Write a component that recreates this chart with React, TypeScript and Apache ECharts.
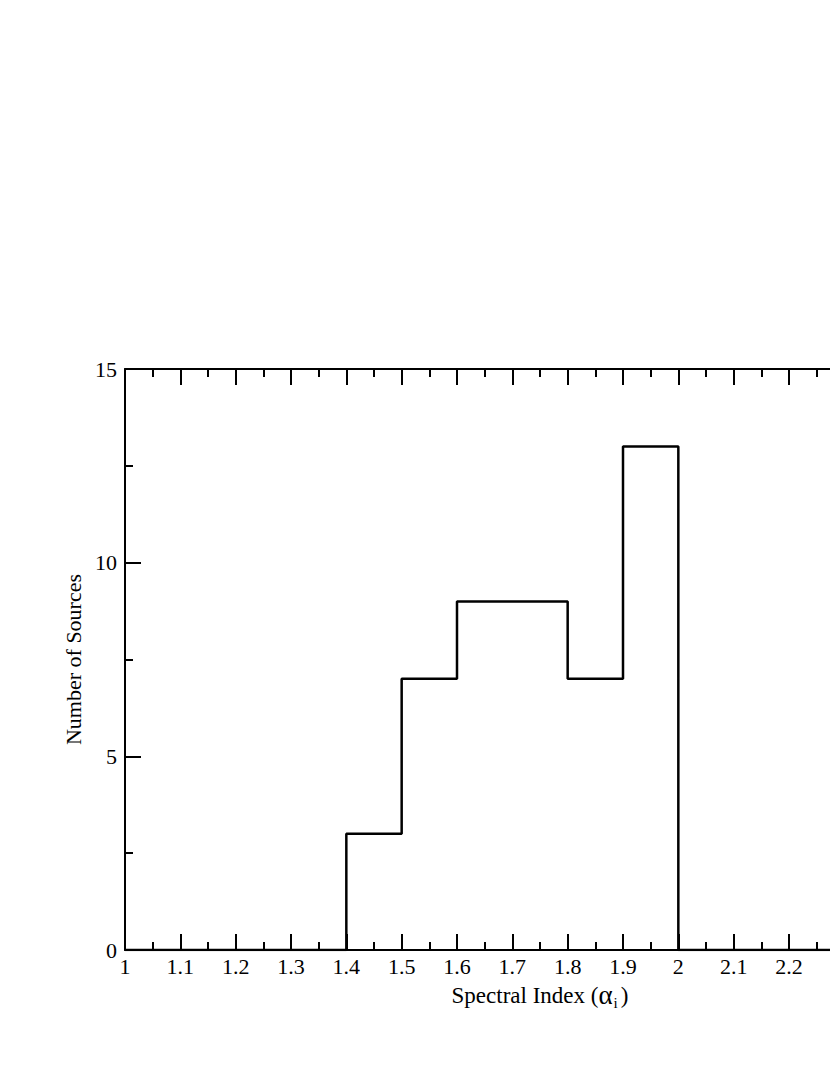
import React, { useEffect, useRef } from "react";
import * as echarts from "echarts";

const binStarts = [1.0, 1.1, 1.2, 1.3, 1.4, 1.5, 1.6, 1.7, 1.8, 1.9, 2.0, 2.1, 2.2, 2.3, 2.4];
const counts = [0, 0, 0, 0, 3, 7, 9, 9, 7, 13, 0, 0, 0, 0, 0];
const binWidth = 0.1;
const xMin = 1;
const xMax = 2.5;
const yMin = 0;
const yMax = 15;
const xTitle = "Spectral Index";
const yTitle = "Number of Sources";

const FONT = "'Liberation Serif', 'DejaVu Serif', serif";

export default function App() {
  const ref = useRef<HTMLDivElement>(null);
  useEffect(() => {
    if (!ref.current) return;
    const chart = echarts.init(ref.current, null, { renderer: "svg" });
    const pts: number[][] = [];
    binStarts.forEach((s, i) => {
      pts.push([s, counts[i]]);
      pts.push([+(s + binWidth).toFixed(2), counts[i]]);
    });
    const axisCommon = {
      min: xMin,
      max: xMax,
      interval: 0.1,
      axisLine: { show: true, lineStyle: { color: "#000", width: 2 } },
      axisTick: { show: true, inside: true, length: 16, lineStyle: { color: "#000", width: 2 } },
      minorTick: { show: true, splitNumber: 2, length: 8, lineStyle: { color: "#000", width: 2 } },
      splitLine: { show: false },
      minorSplitLine: { show: false },
    };
    chart.setOption({
      animation: false,
      backgroundColor: "#fff",
      grid: { left: 125, top: 369, width: 830, height: 581 },
      xAxis: [
        {
          type: "value",
          position: "bottom",
          ...axisCommon,
          axisLabel: {
            show: true,
            color: "#000",
            fontFamily: FONT,
            fontSize: 22,
            margin: 5,
            formatter: (v: number) => (v > 2.25 ? "" : String(+v.toFixed(2))),
          },
          name: "{a|" + xTitle + " (}{b|α}{s|i}{a|)}",
          nameLocation: "middle",
          nameGap: 27,
          nameTextStyle: {
            verticalAlign: "top",
            rich: {
              a: { fontFamily: FONT, fontSize: 23, color: "#000" },
              b: { fontFamily: FONT, fontSize: 27, color: "#000" },
              s: { fontFamily: FONT, fontSize: 15, color: "#000", verticalAlign: "bottom", padding: [16, 3, 0, 1] },
            },
          },
        },
        {
          type: "value",
          position: "top",
          ...axisCommon,
          axisLabel: { show: false },
        },
      ],
      yAxis: [
        {
          type: "value",
          min: yMin,
          max: yMax,
          interval: 5,
          axisLine: { show: true, lineStyle: { color: "#000", width: 2 } },
          axisTick: { show: true, inside: true, length: 16, lineStyle: { color: "#000", width: 2 } },
          minorTick: { show: true, splitNumber: 2, length: 8, lineStyle: { color: "#000", width: 2 } },
          splitLine: { show: false },
          axisLabel: { color: "#000", fontFamily: FONT, fontSize: 22, margin: 8 },
          name: yTitle,
          nameLocation: "middle",
          nameGap: 38,
          nameTextStyle: { fontFamily: FONT, fontSize: 22, color: "#000" },
        },
      ],
      series: [
        {
          type: "line",
          data: pts,
          symbol: "none",
          lineStyle: { color: "#000", width: 2.5 },
          clip: true,
        },
      ],
    });
    return () => chart.dispose();
  }, []);
  return (
    <div style={{ position: "fixed", left: 0, top: 0, width: 830, height: 1075, overflow: "hidden", background: "#fff" }}>
      <div ref={ref} style={{ position: "absolute", left: 0, top: 0, width: 1050, height: 1075 }} />
    </div>
  );
}
